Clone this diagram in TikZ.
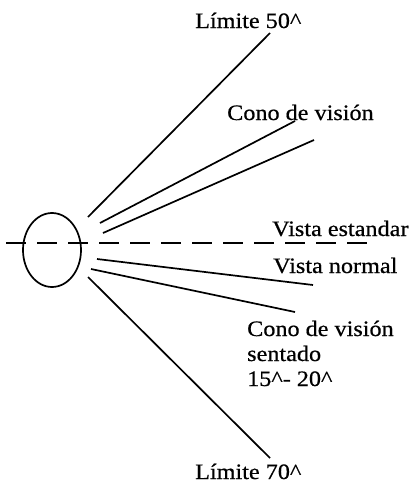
\documentclass[tikz,border=0pt]{standalone}
\usepackage{fontspec}
\setmainfont{Liberation Serif}[FakeStretch=1.1, FakeBold=0.6]
\usepackage{tikz}
\usetikzlibrary{shapes.geometric, positioning}
\tikzstyle{label} = [anchor=base west, inner sep=0pt, font=\fontsize{22}{25}\selectfont, align=left]
\tikzstyle{ray}   = [line width=1.7pt]
\tikzstyle{eye}   = [ellipse, draw, line width=1.7pt, minimum width=58pt, minimum height=74pt, inner sep=0pt]
\tikzstyle{sight} = [line width=1.7pt, dash pattern=on 20pt off 11pt]

\begin{document}
\begin{tikzpicture}[x=1pt, y=-1pt]
    \useasboundingbox (0,0) rectangle (409,485);
    \node[eye] (ojo) at (52,250) {};

    % texts
    \node[label] (lim50)  at (195,28)  {Límite 50\textasciicircum};
    \node[label] (cono)   at (227,120) {Cono de visión};
    \node[label] (std)    at (272,236) {Vista estandar};
    \node[label] (normal) at (273,273) {Vista normal};
    \node[label] (sent)   at (247,386) {Cono de visión\\sentado\\15\textasciicircum- 20\textasciicircum};
    \node[label] (lim70)  at (195,479) {Límite 70\textasciicircum};

    % ends of the rays
    \coordinate (a1) at (88,217);  \coordinate (b1) at (270,33);
    \coordinate (a2) at (100,223); \coordinate (b2) at (295,121);
    \coordinate (a3) at (103,233); \coordinate (b3) at (314,140);
    \coordinate (a4) at (97,259);  \coordinate (b4) at (313,285);
    \coordinate (a5) at (91,269);  \coordinate (b5) at (295,312);
    \coordinate (a6) at (88,277);  \coordinate (b6) at (270,458);
    \coordinate (h1) at (6,243);   \coordinate (h2) at (375,243);

    \draw[ray] (a1) -- (b1);
    \draw[ray] (a2) -- (b2);
    \draw[ray] (a3) -- (b3);
    \draw[ray] (a4) -- (b4);
    \draw[ray] (a5) -- (b5);
    \draw[ray] (a6) -- (b6);
    \draw[sight] (h1) -- (h2);
\end{tikzpicture}
\end{document}
